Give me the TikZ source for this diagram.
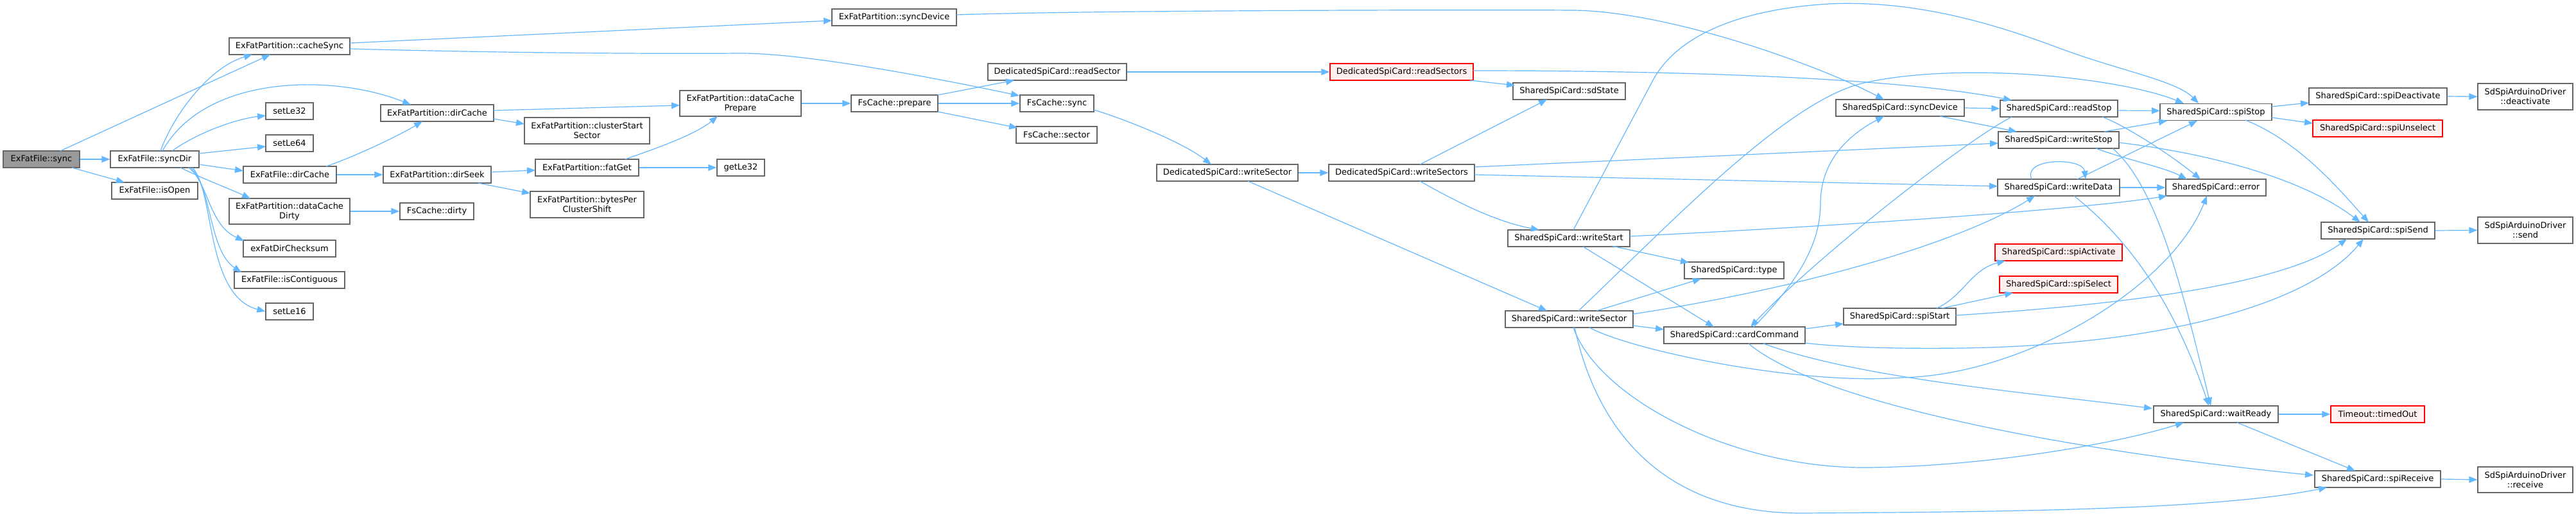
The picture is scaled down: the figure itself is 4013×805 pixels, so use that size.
\documentclass[tikz,border=0pt]{standalone}
\usepackage{fontspec}
\setmainfont{DejaVu Sans}
\usetikzlibrary{arrows.meta,calc}
\definecolor{edgeblue}{HTML}{63B8FF}
\definecolor{nodegray}{HTML}{666666}
\definecolor{rootfill}{HTML}{999999}
\definecolor{redfill}{HTML}{FFF0F0}
\tikzset{
 nbox/.style={draw=nodegray, line width=1.3pt, fill=white, rectangle, inner sep=0pt, align=center, font=\fontsize{13pt}{15pt}\selectfont, text=black},
 rootbox/.style={fill=rootfill},
 redbox/.style={draw=red, fill=redfill},
 conn/.style={draw=edgeblue, line width=1.2pt, -{Triangle[length=13pt,width=10pt]}},
}
\newcommand{\mknode}[7][]{\node[nbox,#1,minimum width=#5pt,minimum height=#6pt] (#2) at (#3,#4) {#7};}
\begin{document}
\begin{tikzpicture}[x=1pt,y=-1pt]
\path[use as bounding box, fill=white] (0,0) rectangle (4013,805);
% nodes
\mknode[rootbox]{sync}{64.5}{248}{119}{26}{ExFatFile::sync}
\mknode{syncDir}{241}{248}{138}{26}{ExFatFile::syncDir}
\mknode{isOpen}{241}{297}{134}{26}{ExFatFile::isOpen}
\mknode{cacheSync}{451}{72}{188}{26}{ExFatPartition::cacheSync}
\mknode{setLe32}{451}{173}{74}{26}{setLe32}
\mknode{setLe64}{451}{223}{74}{26}{setLe64}
\mknode{fdirCache}{451.5}{272}{145}{26}{ExFatFile::dirCache}
\mknode{pdirCache}{681}{176}{176}{26}{ExFatPartition::dirCache}
\mknode{dirSeek}{681}{272}{168}{26}{ExFatPartition::dirSeek}
\mknode{dcDirty}{451}{329}{188}{40}{ExFatPartition::dataCache\\Dirty}
\mknode{fsDirty}{680.5}{329}{115}{26}{FsCache::dirty}
\mknode{chksum}{451}{387}{144}{26}{exFatDirChecksum}
\mknode{isContig}{451}{436}{172}{26}{ExFatFile::isContiguous}
\mknode{setLe16}{451}{485}{74}{26}{setLe16}
\mknode{psyncDev}{1393}{27}{194}{26}{ExFatPartition::syncDevice}
\mknode{clStart}{914.5}{203.5}{195}{41}{ExFatPartition::clusterStart\\Sector}
\mknode{dcPrepare}{1153.5}{161}{189}{40}{ExFatPartition::dataCache\\Prepare}
\mknode{fatGet}{914.5}{261}{161}{26}{ExFatPartition::fatGet}
\mknode{getLe32}{1154}{261}{74}{26}{getLe32}
\mknode{bytesPer}{914.5}{318.5}{177}{41}{ExFatPartition::bytesPer\\ClusterShift}
\mknode{prepare}{1393.5}{161}{135}{26}{FsCache::prepare}
\mknode{readSector}{1647}{112}{216}{26}{DedicatedSpiCard::readSector}
\mknode{fsSync}{1646.5}{161}{115}{26}{FsCache::sync}
\mknode{fsSector}{1646}{210}{126}{26}{FsCache::sector}
\mknode[redbox]{readSectors}{2183.5}{112}{223}{26}{DedicatedSpiCard::readSectors}
\mknode{sdState}{2444.5}{142}{175}{26}{SharedSpiCard::sdState}
\mknode{dwSector}{1912}{269}{220}{26}{DedicatedSpiCard::writeSector}
\mknode{wSectors}{2183.5}{269}{227}{26}{DedicatedSpiCard::writeSectors}
\mknode{wStart}{2444}{371}{190}{26}{SharedSpiCard::writeStart}
\mknode{swSector}{2444.5}{497}{199}{26}{SharedSpiCard::writeSector}
\mknode{type}{2701.5}{421}{155}{26}{SharedSpiCard::type}
\mknode{cardCmd}{2702}{522}{220}{26}{SharedSpiCard::cardCommand}
\mknode{spiStart}{2959.5}{493}{175}{26}{SharedSpiCard::spiStart}
\mknode{ssyncDev}{2960}{168}{200}{26}{SharedSpiCard::syncDevice}
\mknode{readStop}{3207.5}{169}{183}{26}{SharedSpiCard::readStop}
\mknode{writeStop}{3207}{218}{188}{26}{SharedSpiCard::writeStop}
\mknode{writeData}{3207}{292}{190}{26}{SharedSpiCard::writeData}
\mknode[redbox]{spiAct}{3207}{393}{198}{26}{SharedSpiCard::spiActivate}
\mknode[redbox]{spiSel}{3207}{443}{184}{26}{SharedSpiCard::spiSelect}
\mknode{spiStop}{3452}{174.5}{174}{26}{SharedSpiCard::spiStop}
\mknode{error}{3452}{292}{156}{26}{SharedSpiCard::error}
\mknode{spiDeact}{3704.5}{150}{215}{26}{SharedSpiCard::spiDeactivate}
\mknode[redbox]{spiUnsel}{3704}{200}{202}{26}{SharedSpiCard::spiUnselect}
\mknode{drvDeact}{3934}{150.5}{148}{41}{SdSpiArduinoDriver\\::deactivate}
\mknode{spiSend}{3704.5}{359}{177}{26}{SharedSpiCard::spiSend}
\mknode{drvSend}{3934}{358.5}{148}{41}{SdSpiArduinoDriver\\::send}
\mknode{waitReady}{3452}{645}{194}{26}{SharedSpiCard::waitReady}
\mknode[redbox]{timedOut}{3704}{645}{146}{26}{Timeout::timedOut}
\mknode{spiRecv}{3704}{746}{196}{26}{SharedSpiCard::spiReceive}
\mknode{drvRecv}{3934}{747}{148}{40}{SdSpiArduinoDriver\\::receive}
% edges
\draw[conn] ($(sync)+(29.5,-13)$) -- ($(cacheSync)+(-30,13)$);
\draw[conn] (sync.east) -- (syncDir.west);
\draw[conn] ($(sync)+(47.5,13)$) -- ($(isOpen)+(-47,-13)$);
\draw[conn] ($(syncDir)+(9,-13)$) .. controls (270,180) and (325,105) .. ($(cacheSync)+(-58,13)$);
\draw[conn] ($(syncDir)+(12,-13)$) .. controls (320,115) and (520,115) .. ($(pdirCache)+(-41,-13)$);
\draw[conn] ($(syncDir)+(27,-13)$) .. controls (310,205) and (370,185) .. ($(setLe32)+(-37,7)$);
\draw[conn] ($(syncDir)+(69,-9)$) -- ($(setLe64)+(-37,5)$);
\draw[conn] ($(syncDir)+(69,8)$) -- ($(fdirCache)+(-72.5,-6)$);
\draw[conn] ($(syncDir)+(40,13)$) .. controls (320,280) and (360,295) .. ($(dcDirty)+(-61,-20)$);
\draw[conn] ($(syncDir)+(53,13)$) .. controls (325,285) and (325,350) .. ($(chksum)+(-71,-12)$);
\draw[conn] ($(syncDir)+(56,13)$) .. controls (330,290) and (325,390) .. ($(isContig)+(-75,-12)$);
\draw[conn] ($(syncDir)+(59,13)$) .. controls (335,300) and (320,460) .. (setLe16.west);
\draw[conn] ($(cacheSync)+(94,-5)$) -- ($(psyncDev)+(-97,5)$);
\draw[conn] ($(cacheSync)+(94,4)$) .. controls (800,83) and (1050,84) .. (1150,83) .. controls (1250,82) and (1450,120) .. ($(fsSync)+(-58.5,-12)$);
\draw[conn] ($(pdirCache)+(88,-4)$) -- ($(dcPrepare)+(-94.5,3)$);
\draw[conn] ($(pdirCache)+(88,9)$) -- ($(clStart)+(-97.5,-10.5)$);
\draw[conn] ($(fdirCache)+(56.5,-13)$) .. controls (550,245) and (620,212) .. ($(pdirCache)+(-23,13)$);
\draw[conn] (fdirCache.east) -- (dirSeek.west);
\draw[conn] ($(dirSeek)+(84,-4)$) -- ($(fatGet)+(-80.5,4)$);
\draw[conn] ($(dirSeek)+(64,13)$) -- ($(bytesPer)+(-88.5,-17.5)$);
\draw[conn] ($(fatGet)+(59.5,-13)$) .. controls (1010,235) and (1080,212) .. ($(dcPrepare)+(-35.5,20)$);
\draw[conn] (fatGet.east) -- (getLe32.west);
\draw[conn] (dcDirty.east) -- (fsDirty.west);
\draw[conn] (dcPrepare.east) -- (prepare.west);
\draw[conn] ($(prepare)+(67.5,-13)$) -- ($(readSector)+(-67,13)$);
\draw[conn] (prepare.east) -- (fsSync.west);
\draw[conn] ($(prepare)+(67.5,13)$) -- ($(fsSector)+(-61,-11)$);
\draw[conn] ($(psyncDev)+(97,-4)$) .. controls (1700,16) and (2300,15) .. (2451,16) .. controls (2600,18) and (2830,100) .. ($(ssyncDev)+(-25,-13)$);
\draw[conn] (readSector.east) -- (readSectors.west);
\draw[conn] ($(fsSync)+(57.5,10)$) .. controls (1750,185) and (1840,220) .. ($(dwSector)+(-25,-13)$);
\draw[conn] (dwSector.east) -- (wSectors.west);
\draw[conn] ($(dwSector)+(32,13)$) -- ($(swSector)+(-34.5,-13)$);
\draw[conn] ($(readSectors)+(111.5,-2)$) .. controls (2600,110) and (2950,120) .. ($(readStop)+(-73.5,-13)$);
\draw[conn] ($(readSectors)+(106.5,13)$) -- ($(sdState)+(-84.5,-9)$);
\draw[conn] ($(wSectors)+(28.5,-13)$) -- ($(sdState)+(-34.5,13)$);
\draw[conn] ($(wSectors)+(113.5,-9)$) -- ($(writeStop)+(-94,5)$);
\draw[conn] ($(wSectors)+(113.5,3)$) -- ($(writeData)+(-95,-2)$);
\draw[conn] ($(wSectors)+(28.5,13)$) .. controls (2270,315) and (2330,345) .. ($(wStart)+(-46,-13)$);
\draw[conn] ($(wStart)+(7,-13)$) -- (2575,125) .. controls (2610,60) and (2700,15) .. (2850,6) .. controls (2980,0) and (3100,35) .. (3200,72) .. controls (3300,110) and (3390,125) .. ($(spiStop)+(-27,-13.5)$);
\draw[conn] ($(wStart)+(95,-3)$) .. controls (2900,350) and (3250,325) .. ($(error)+(-76,13)$);
\draw[conn] ($(wStart)+(67,12)$) -- ($(type)+(-70.5,-12)$);
\draw[conn] ($(wStart)+(22,13)$) -- ($(cardCmd)+(-32,-13)$);
\draw[conn] ($(swSector)+(14.5,-13)$) .. controls (2600,350) and (2780,160) .. (2900,130) .. controls (3050,95) and (3300,120) .. ($(spiStop)+(-50,-13.5)$);
\draw[conn] ($(swSector)+(42.5,-13)$) -- ($(type)+(-51.5,13)$);
\draw[conn] ($(swSector)+(99.5,10)$) -- ($(cardCmd)+(-110,-9)$);
\draw[conn] ($(swSector)+(99.5,-8)$) .. controls (2800,450) and (3050,380) .. ($(writeData)+(-37,13)$);
\draw[conn] ($(swSector)+(31.5,13)$) .. controls (2540,545) and (2800,600) .. (2961,588) .. controls (3150,585) and (3380,450) .. ($(error)+(-14,13)$);
\draw[conn] ($(swSector)+(6.5,13)$) .. controls (2490,620) and (2700,730) .. (2910,728) .. controls (3100,726) and (3300,690) .. ($(waitReady)+(-50,13)$);
\draw[conn] ($(swSector)+(8.5,13)$) .. controls (2490,680) and (2600,800) .. (2808,799) .. controls (3100,797) and (3450,795) .. ($(spiRecv)+(-79,13)$);
\draw[conn] ($(cardCmd)+(110,-10)$) -- ($(spiStart)+(-87.5,11)$);
\draw[conn] ($(cardCmd)+(30,-13)$) .. controls (2800,440) and (2836,380) .. (2836,317) .. controls (2836,250) and (2880,210) .. ($(ssyncDev)+(-25,13)$);
\draw[conn] ($(readStop)+(-73.5,13)$) .. controls (3060,220) and (2830,400) .. ($(cardCmd)+(25,-13)$);
\draw[conn] ($(cardCmd)+(110,12)$) .. controls (2900,545) and (3100,545) .. (3200,535) .. controls (3400,520) and (3600,470) .. ($(spiSend)+(-22.5,13)$);
\draw[conn] ($(cardCmd)+(45,13)$) .. controls (2900,590) and (3150,610) .. ($(waitReady)+(-99,-9)$);
\draw[conn] ($(cardCmd)+(22,13)$) .. controls (2850,640) and (3300,710) .. ($(spiRecv)+(-100,-6)$);
\draw[conn] ($(spiStart)+(57.5,-13)$) .. controls (3060,460) and (3070,420) .. ($(spiAct)+(-83,13)$);
\draw[conn] ($(spiStart)+(65.5,-13)$) -- ($(spiSel)+(-71,13)$);
\draw[conn] ($(spiStart)+(87.5,-2)$) .. controls (3250,478) and (3550,450) .. ($(spiSend)+(-48.5,13)$);
\draw[conn] (ssyncDev.east) -- (readStop.west);
\draw[conn] ($(ssyncDev)+(62,13)$) -- ($(writeStop)+(-65,-13)$);
\draw[conn] ($(readStop)+(91.5,3)$) -- ($(spiStop)+(-87,-2)$);
\draw[conn] ($(readStop)+(67.5,13)$) .. controls (3310,195) and (3380,240) .. ($(error)+(-24,-13)$);
\draw[conn] ($(writeStop)+(71,-13)$) -- ($(spiStop)+(-76,13.5)$);
\draw[conn] ($(writeStop)+(58,13)$) .. controls (3310,248) and (3370,260) .. ($(error)+(-45,-13)$);
\draw[conn] ($(writeStop)+(94,4)$) .. controls (3450,240) and (3590,280) .. ($(spiSend)+(-27.5,-13)$);
\draw[conn] ($(writeStop)+(84,13)$) .. controls (3360,290) and (3400,450) .. ($(waitReady)+(-8,-13)$);
\draw[conn] ($(writeData)+(24,13)$) .. controls (3300,360) and (3380,450) .. ($(waitReady)+(-11,-13)$);
\draw[conn] ($(writeData)+(29,-13)$) -- ($(spiStop)+(-29,13.5)$);
\draw[conn] (writeData.east) -- (error.west);
\draw[conn] ($(writeData)+(-42,-13)$) .. controls (3150,245) and (3245,245) .. ($(writeData)+(42,-13)$);
\draw[conn] ($(spiStop)+(87,-8.5)$) -- ($(spiDeact)+(-107.5,10)$);
\draw[conn] ($(spiStop)+(87,8.5)$) -- ($(spiUnsel)+(-101,-8)$);
\draw[conn] ($(spiStop)+(46,12.5)$) .. controls (3580,220) and (3640,290) .. ($(spiSend)+(-14.5,-13)$);
\draw[conn] (spiDeact.east) -- (drvDeact.west);
\draw[conn] (spiSend.east) -- (drvSend.west);
\draw[conn] (waitReady.east) -- (timedOut.west);
\draw[conn] ($(waitReady)+(33,13)$) -- ($(spiRecv)+(-35,-13)$);
\draw[conn] (spiRecv.east) -- (drvRecv.west);
\end{tikzpicture}
\end{document}
